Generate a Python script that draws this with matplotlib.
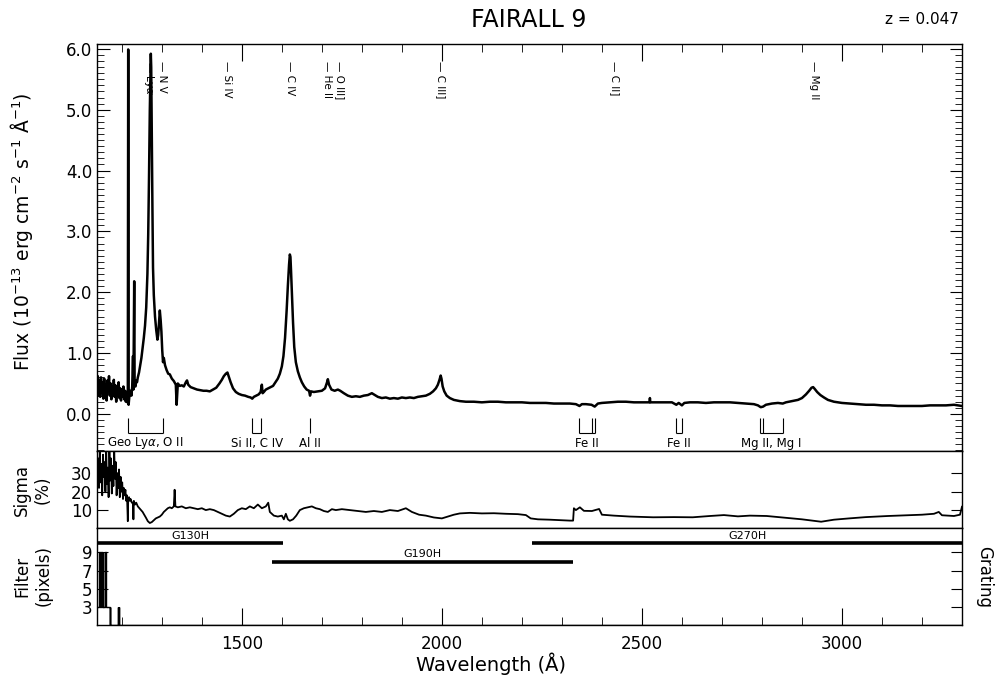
import matplotlib
matplotlib.use("Agg")
import matplotlib.pyplot as plt
from matplotlib.ticker import MultipleLocator, FormatStrFormatter

# ---- spectrum (Angstrom, 1e-13 erg/cm2/s/A) ----
wave = [1138, 1140, 1142, 1144, 1146, 1148, 1150, 1152, 1154, 1156, 1158, 1160, 1162, 1164,
        1166, 1168, 1170, 1172, 1174, 1176, 1178, 1180, 1182, 1184, 1186, 1188, 1190, 1192,
        1194, 1196, 1198, 1200, 1202, 1204, 1206, 1208, 1210, 1212, 1214, 1215, 1216, 1217,
        1219, 1222, 1224, 1226, 1228, 1229, 1231, 1232, 1234, 1236, 1238, 1240, 1243, 1246,
        1249, 1252, 1255, 1258, 1261, 1264, 1266, 1268, 1270, 1271.5, 1272.5, 1273.5, 1275,
        1276.5, 1278, 1280, 1283, 1286, 1289, 1291, 1293, 1295, 1297, 1299, 1301, 1303, 1305,
        1308, 1312, 1316, 1320, 1325, 1330, 1335, 1337, 1340, 1345, 1350, 1355, 1360, 1363,
        1366, 1372, 1380, 1388, 1396, 1404, 1412, 1420, 1428, 1436, 1444, 1450, 1455, 1460,
        1464, 1468, 1472, 1478, 1485, 1492, 1500, 1508, 1516, 1522, 1526, 1530, 1536, 1542,
        1547, 1550, 1552, 1555, 1560, 1566, 1572, 1578, 1584, 1590, 1595, 1600, 1604, 1608,
        1612, 1615, 1618, 1620, 1621.5, 1623, 1625, 1628, 1631, 1635, 1640, 1645, 1650, 1656,
        1662, 1668, 1670.5, 1673, 1680, 1690, 1700, 1708, 1713, 1715, 1718, 1724, 1732, 1740,
        1746, 1755, 1765, 1775, 1785, 1795, 1805, 1815, 1825, 1830, 1840, 1850, 1860, 1870,
        1880, 1890, 1900, 1910, 1920, 1930, 1940, 1950, 1960, 1970, 1978, 1985, 1990, 1994,
        1997, 1999, 2002, 2006, 2012, 2020, 2030, 2045, 2060, 2080, 2100, 2120, 2140, 2160,
        2180, 2200, 2220, 2240, 2260, 2280, 2300, 2320, 2335, 2344, 2350, 2360, 2374, 2382,
        2390, 2400, 2420, 2440, 2460, 2480, 2500, 2519, 2520, 2521, 2540, 2560, 2575, 2586,
        2592, 2600, 2606, 2620, 2640, 2660, 2680, 2700, 2720, 2740, 2760, 2780, 2790, 2797,
        2803, 2810, 2825, 2840, 2852, 2860, 2875, 2890, 2900, 2910, 2918, 2924, 2928, 2932,
        2938, 2946, 2955, 2965, 2980, 3000, 3020, 3040, 3060, 3080, 3100, 3120, 3140, 3160,
        3180, 3200, 3220, 3240, 3260, 3280, 3290, 3300]
flux = [0.45, 0.62, 0.30, 0.55, 0.28, 0.60, 0.35, 0.52, 0.25, 0.58, 0.32, 0.48, 0.22, 0.55,
        0.38, 0.62, 0.30, 0.50, 0.24, 0.45, 0.33, 0.56, 0.28, 0.47, 0.20, 0.44, 0.30, 0.52,
        0.26, 0.42, 0.22, 0.40, 0.28, 0.45, 0.24, 0.38, 0.20, 0.36, 0.22, 0.18, 5.99, 0.15,
        0.30, 0.38, 0.30, 0.45, 0.95, 0.40, 2.18, 0.50, 0.45, 0.55, 0.52, 0.60, 0.68, 0.80,
        0.92, 1.08, 1.25, 1.45, 1.75, 2.30, 2.95, 3.90, 5.00, 5.60, 5.92, 5.70, 4.50,
        3.40, 2.40, 1.95, 1.60, 1.38, 1.22, 1.30, 1.50, 1.70, 1.55, 1.35, 1.05, 0.85, 0.92,
        0.80, 0.72, 0.66, 0.65, 0.58, 0.54, 0.48, 0.15, 0.50, 0.46, 0.47, 0.45, 0.52, 0.55,
        0.48, 0.44, 0.42, 0.40, 0.39, 0.38, 0.38, 0.37, 0.40, 0.43, 0.50, 0.56, 0.62, 0.66,
        0.68, 0.60, 0.52, 0.42, 0.36, 0.33, 0.31, 0.30, 0.28, 0.27, 0.25, 0.28, 0.30, 0.32,
        0.36, 0.48, 0.34, 0.36, 0.40, 0.42, 0.44, 0.46, 0.52, 0.58, 0.66, 0.78, 0.95, 1.25,
        1.70, 2.10, 2.45, 2.62, 2.58, 2.35, 2.00, 1.50, 1.10, 0.85, 0.70, 0.60, 0.52, 0.45,
        0.40, 0.38, 0.30, 0.37, 0.36, 0.37, 0.38, 0.42, 0.52, 0.57, 0.48, 0.40, 0.38, 0.40,
        0.38, 0.34, 0.30, 0.28, 0.29, 0.28, 0.30, 0.31, 0.34, 0.32, 0.28, 0.26, 0.27, 0.25,
        0.26, 0.25, 0.27, 0.26, 0.27, 0.26, 0.28, 0.29, 0.30, 0.33, 0.37, 0.42, 0.48, 0.56,
        0.63, 0.58, 0.45, 0.37, 0.30, 0.26, 0.23, 0.21, 0.20, 0.20, 0.19, 0.20, 0.20, 0.19,
        0.19, 0.19, 0.18, 0.18, 0.18, 0.17, 0.17, 0.17, 0.16, 0.13, 0.16, 0.16, 0.15, 0.12,
        0.17, 0.18, 0.19, 0.20, 0.20, 0.19, 0.19, 0.19, 0.26, 0.19, 0.19, 0.19, 0.19, 0.15,
        0.18, 0.14, 0.18, 0.19, 0.19, 0.18, 0.19, 0.19, 0.19, 0.18, 0.17, 0.16, 0.14, 0.11,
        0.12, 0.15, 0.17, 0.18, 0.17, 0.19, 0.21, 0.23, 0.26, 0.32, 0.38, 0.43, 0.44, 0.41,
        0.36, 0.31, 0.27, 0.23, 0.20, 0.18, 0.17, 0.16, 0.15, 0.15, 0.14, 0.14, 0.13, 0.13,
        0.13, 0.13, 0.14, 0.14, 0.14, 0.15, 0.14, 0.13]

# ---- sigma (%) ----
sig_wave = [1139, 1141, 1143, 1145, 1147, 1149, 1151, 1153, 1155, 1157, 1159, 1161, 1163, 1165,
            1167, 1169, 1171, 1173, 1175, 1177, 1179, 1181, 1183, 1185, 1187, 1189, 1191, 1193,
            1195, 1197, 1199, 1201, 1203, 1205, 1207, 1209, 1211, 1213, 1215, 1216, 1218, 1220,
            1222, 1225, 1228, 1229, 1230, 1233, 1236, 1240, 1244, 1248, 1252, 1256, 1260, 1265,
            1270, 1275, 1280, 1285, 1290, 1295, 1300, 1305, 1310, 1315, 1320, 1325, 1330, 1332,
            1334, 1340, 1350, 1360, 1370, 1380, 1390, 1400, 1410, 1420, 1430, 1440, 1450, 1460,
            1470, 1480, 1490, 1500, 1510, 1520, 1530, 1540, 1550, 1560, 1566, 1570, 1580, 1590,
            1600, 1605, 1610, 1615, 1620, 1628, 1636, 1645, 1655, 1665, 1675, 1685, 1695, 1705,
            1715, 1725, 1735, 1750, 1770, 1790, 1810, 1830, 1850, 1870, 1890, 1910, 1925, 1943,
            1960, 1980, 2000, 2015, 2030, 2045, 2070, 2100, 2130, 2160, 2190, 2210, 2222, 2240,
            2270, 2300, 2320, 2328, 2330, 2335, 2345, 2355, 2375, 2393, 2400, 2430, 2470, 2528,
            2580, 2627, 2670, 2705, 2740, 2770, 2812, 2850, 2900, 2948, 2980, 3018, 3060, 3115,
            3160, 3200, 3230, 3242, 3250, 3280, 3295, 3300]
sigma = [30, 38, 22, 42, 25, 35, 18, 40, 28, 36, 20, 42, 24, 33,
         17, 42, 26, 38, 19, 34, 23, 42, 27, 36, 18, 30, 22, 32,
         17, 28, 20, 25, 16, 22, 18, 21, 15, 18, 4, 16, 17, 15,
         16, 14, 14, 5, 15, 13, 14, 12, 11, 10, 9, 7.5, 6, 4,
         3, 3.5, 4.5, 5.5, 6, 6.5, 7.5, 9, 10, 11, 11.5, 11, 12, 21,
         12, 11.5, 12, 11, 11.5, 11, 10.5, 11, 10, 10.5, 10, 9, 8, 7,
         6.5, 8, 10, 11, 10.5, 12, 11, 13, 11, 12, 14, 9, 7, 6.5,
         7, 5, 8, 5, 4.2, 5, 7, 10, 11, 11.5, 12, 11, 10.5, 9.5,
         9, 10.5, 10, 10.5, 10, 9.5, 9, 9.5, 9, 10, 9.5, 11, 9, 7.5,
         7, 6, 5.5, 6.5, 7.5, 8.2, 8.5, 8.2, 8.3, 8, 7.8, 7.3, 5.5, 5,
         4.8, 4.5, 4.3, 4.3, 11, 10, 11.5, 9.6, 9.5, 10.6, 7.5, 7, 6.5, 6.1,
         6.2, 6.1, 6.8, 7.3, 6.6, 7, 6.8, 6, 5, 3.7, 4.8, 5.5, 6.2, 6.8,
         7.2, 7.5, 8, 9, 7.2, 6.8, 7.5, 11.8]

# ---- filter width (pixels) as steps ----
filt_edges = [1138, 1144, 1146, 1149, 1150, 1152, 1153, 1157, 1160, 1170, 1170.6, 1171.2,
              1190, 1190.6, 1192, 1192.6, 3300]
filt_width = [3, 9, 3, 9, 3, 9, 3, 9, 3, 1, 3, 1, 3, 1, 3, 1]

# ---- gratings ----
grating_names = ["G130H", "G190H", "G270H"]
grating_start = [1138, 1576, 2226]
grating_end = [1603, 2328, 3300]
grating_level = [10, 8, 10]

# ---- line identifications (label positions nudged apart where they crowd) ----
em_names = ["Ly$\\alpha$", "N V", "Si IV", "C IV", "He II", "O III]", "C III]", "C II]", "Mg II"]
em_wave = [1267, 1301, 1462, 1621, 1714, 1745, 1998, 2433, 2930]

ism_names = ["Geo Ly$\\alpha$, O II", "Si II, C IV", "Al II", "Fe II", "Fe II", "Mg II, Mg I"]
ism_waves = [[1216, 1302], [1526, 1549], [1670], [2344, 2374, 2382], [2586, 2600],
             [2796, 2803, 2852]]

xmin, xmax = 1138, 3300

plt.rcParams['font.family'] = ['DejaVu Sans']
plt.rcParams['mathtext.fontset'] = 'dejavusans'

fig = plt.figure(figsize=(9.98, 6.85), dpi=100)
ax1 = fig.add_axes([0.0972, 0.3416, 0.8667, 0.5942])
ax2 = fig.add_axes([0.0972, 0.2292, 0.8667, 0.1124])
ax3 = fig.add_axes([0.0972, 0.0876, 0.8667, 0.1416])

# main spectrum
ax1.plot(wave, flux, color='k', lw=1.8)
ax1.set_xlim(xmin, xmax)
ax1.set_ylim(-0.61, 6.08)
ax1.xaxis.set_major_locator(MultipleLocator(500))
ax1.xaxis.set_minor_locator(MultipleLocator(100))
ax1.yaxis.set_major_locator(MultipleLocator(1))
ax1.yaxis.set_minor_locator(MultipleLocator(0.1))
ax1.yaxis.set_major_formatter(FormatStrFormatter('%.1f'))
ax1.tick_params(axis='both', which='both', direction='in', top=True, bottom=False,
                right=True, labelbottom=False, labelsize=12)
ax1.tick_params(axis='x', which='major', length=12)
ax1.tick_params(axis='x', which='minor', length=6)
ax1.tick_params(axis='y', which='major', length=9)
ax1.tick_params(axis='y', which='minor', length=5)

for name, w in zip(em_names, em_wave):
    ax1.text(w, 5.80, "\u2014 " + name, rotation=-90, ha='center', va='top', fontsize=7.5)

for name, ws in zip(ism_names, ism_waves):
    ax1.vlines(ws, -0.31, -0.07, color='k', lw=0.8)
    ax1.hlines(-0.31, min(ws), max(ws), color='k', lw=0.8)
    ax1.text((min(ws) + max(ws)) / 2, -0.48, name, ha='center', va='center', fontsize=8.5)

# sigma panel
ax2.plot(sig_wave, sigma, color='k', lw=1.3)
ax2.set_xlim(xmin, xmax)
ax2.set_ylim(0.3, 42)
ax2.set_yticks([10, 20, 30])
ax2.tick_params(axis='y', direction='in', right=True, length=8, labelsize=12)
ax2.tick_params(axis='x', which='both', bottom=False, top=False, labelbottom=False)

# filter / grating panel
ax3.stairs(filt_width, filt_edges, color='k', lw=1.0, baseline=None)
for name, a, b, lev in zip(grating_names, grating_start, grating_end, grating_level):
    ax3.hlines(lev, a, b, color='k', lw=2.6)
    ax3.text((a + b) / 2, lev + 0.85, name, ha='center', va='center', fontsize=8)
ax3.set_xlim(xmin, xmax)
ax3.set_ylim(1, 11.7)
ax3.set_yticks([3, 5, 7, 9])
ax3.xaxis.set_major_locator(MultipleLocator(500))
ax3.xaxis.set_minor_locator(MultipleLocator(100))
ax3.tick_params(axis='y', direction='in', right=True, length=8, labelsize=12)
ax3.tick_params(axis='x', which='both', direction='in', top=False, labelsize=12, pad=7)
ax3.tick_params(axis='x', which='major', length=12)
ax3.tick_params(axis='x', which='minor', length=6)

for ax in (ax1, ax2, ax3):
    for sp in ax.spines.values():
        sp.set_linewidth(1.0)

fig.text(22 / 998, 1 - 232 / 685,
         "Flux (10$^{-13}$ erg cm$^{-2}$ s$^{-1}$ \u00c5$^{-1}$)",
         rotation=90, ha='center', va='center', fontsize=13.5)
fig.text(32 / 998, 1 - 490 / 685, "Sigma\n(%)", rotation=90, ha='center', va='center',
         fontsize=12, multialignment='center')
fig.text(33 / 998, 1 - 576 / 685, "Filter\n(pixels)", rotation=90, ha='center', va='center',
         fontsize=12, multialignment='center')
fig.text(984 / 998, 1 - 577 / 685, "Grating", rotation=-90, ha='center', va='center',
         fontsize=12)
fig.text(491 / 998, 1 - 664 / 685, "Wavelength (\u00c5)", ha='center', va='center',
         fontsize=14)
fig.text(529 / 998, 1 - 20 / 685, "FAIRALL 9", ha='center', va='center', fontsize=17)
fig.text(922 / 998, 1 - 20 / 685, "z = 0.047", ha='center', va='center', fontsize=11)

fig.savefig("out.png", dpi=100)
